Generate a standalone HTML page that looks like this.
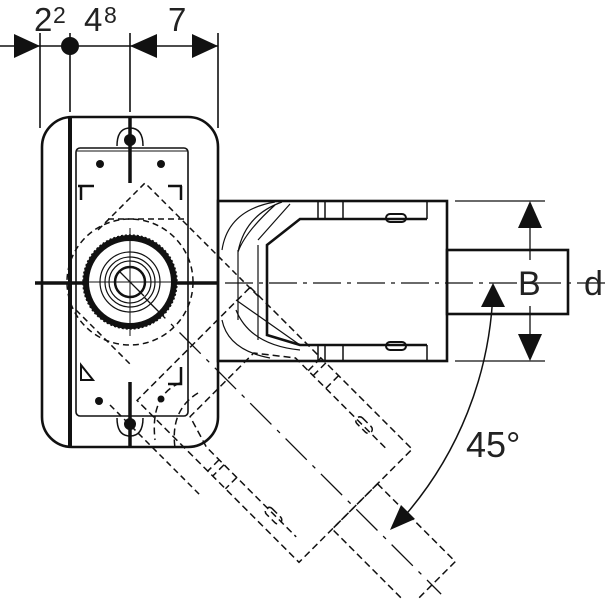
<!DOCTYPE html>
<html><head><meta charset="utf-8"><style>
html,body{margin:0;padding:0;background:#fff;width:606px;height:600px;overflow:hidden;}
svg{display:block;}
text{font-family:"Liberation Sans",sans-serif;fill:#222;}
</style></head><body>
<svg width="606" height="600" viewBox="0 0 606 600" xmlns="http://www.w3.org/2000/svg">
<defs><clipPath id="c"><rect x="0" y="0" width="606" height="600"/></clipPath></defs>
<g clip-path="url(#c)">
<g stroke="#111" fill="none" stroke-linecap="butt">
<line x1="0" y1="46" x2="218" y2="46" stroke-width="1.6"/>
<line x1="40" y1="33" x2="40" y2="128" stroke-width="1.6"/>
<line x1="70" y1="33" x2="70" y2="112" stroke-width="1.6"/>
<line x1="130" y1="33" x2="130" y2="112" stroke-width="1.6"/>
<line x1="218" y1="33" x2="218" y2="128" stroke-width="1.6"/>
</g>
<g fill="#111">
<polygon points="14,34 40,46 14,58"/>
<circle cx="70" cy="46" r="9"/>
<polygon points="157,34 130,46 157,58"/>
<polygon points="192,34 218,46 192,58"/>
</g>
<text x="34" y="31" font-size="33">2</text>
<text x="53" y="23" font-size="23">2</text>
<text x="84" y="31" font-size="33">4</text>
<text x="104" y="23" font-size="23">8</text>
<text x="168" y="31" font-size="33">7</text>

<g stroke="#111" fill="none">
<rect x="42" y="117" width="176" height="330" rx="30" stroke-width="2.6"/>
<line x1="70" y1="117" x2="70" y2="447" stroke-width="4"/>
<rect x="76" y="148" width="112" height="268" rx="4" stroke-width="1.6"/>
<line x1="76" y1="151" x2="188" y2="151" stroke-width="1"/>
<line x1="130" y1="117" x2="130" y2="183" stroke-width="3.5"/>
<line x1="130" y1="382" x2="130" y2="447" stroke-width="3.5"/>
<line x1="35" y1="283" x2="85" y2="283" stroke-width="3.5"/>
<line x1="175" y1="283" x2="218" y2="283" stroke-width="3.5"/>
<path d="M117,146 Q117,128 130,128 Q143,128 143,146" stroke-width="1.5"/>
<path d="M117,418 Q117,436 130,436 Q143,436 143,418" stroke-width="1.5"/>
<path d="M78,186 H94 M81,186 V200" stroke-width="2.5"/>
<path d="M182,186 H168 M181,186 V200" stroke-width="2.5"/>
<path d="M81,365 V380 L93,380 Z" stroke-width="2"/>
<path d="M181,367 V384 H168" stroke-width="2.5"/>
<circle cx="130" cy="282" r="44" stroke-width="6"/>
<circle cx="130" cy="282" r="47" stroke-width="1.5" stroke-dasharray="2 2"/>
<circle cx="130" cy="282" r="30" stroke-width="1.2"/>
<circle cx="130" cy="282" r="25" stroke-width="1.2"/>
<circle cx="130" cy="282" r="21" stroke-width="1.2"/>
<circle cx="130" cy="282" r="15" stroke-width="2.5"/>
<line x1="120" y1="272" x2="144" y2="296" stroke-width="1.3"/>
<line x1="130" y1="228" x2="130" y2="336" stroke-width="1"/>
<line x1="88" y1="282" x2="172" y2="282" stroke-width="1"/>
</g>
<g stroke="#111" fill="none" stroke-width="1.5" stroke-dasharray="6 4">
<path d="M98,230 L145,183 L258,296"/>
<line x1="108" y1="219" x2="184" y2="219"/>
<circle cx="130" cy="282" r="63"/>
<path d="M76,310 L130,364 M110,405 L200,495"/>
</g>
<g fill="#111">
<circle cx="130" cy="140" r="6"/><circle cx="130" cy="424" r="6"/>
<circle cx="100" cy="164" r="4"/><circle cx="161" cy="164" r="4"/>
<circle cx="99" cy="401" r="4"/><circle cx="161" cy="399" r="3.5"/>
</g>

<g stroke="#111" fill="none">
<rect x="218" y="201" width="229" height="160" stroke-width="2.6"/>
<path d="M427,219 H300 L267,245 V335 L300,345 H427" stroke-width="2.6"/>
<path d="M427,201 V219 M427,345 V361" stroke-width="1.5"/>
<path d="M318,201 V219 M325,201 V219 M343,201 V219 M318,345 V361 M325,345 V361 M343,345 V361" stroke-width="1.5"/>
<rect x="386" y="214" width="20" height="8" rx="4" stroke-width="2"/>
<rect x="386" y="342" width="20" height="8" rx="4" stroke-width="2"/>
<rect x="447" y="250" width="121" height="64" stroke-width="2.6"/>
<path d="M275,202 Q228,210 222,250 M282,202 Q245,215 238,252 M258,240 L290,204 M238,252 Q245,232 275,205 M258,245 V340 M238,250 V320" stroke-width="1.2"/>
<path d="M222,320 Q228,350 270,358 M236,310 Q250,345 300,350 M236,300 L300,345" stroke-width="1.2"/>
<line x1="455" y1="201" x2="545" y2="201" stroke-width="1.3"/>
<line x1="455" y1="361" x2="545" y2="361" stroke-width="1.3"/>
<line x1="530" y1="220" x2="530" y2="260" stroke-width="1.3"/>
<line x1="530" y1="306" x2="530" y2="345" stroke-width="1.3"/>
<line x1="225" y1="283" x2="606" y2="283" stroke-width="1.3" stroke-dasharray="28 6 4 6"/>
<path d="M493,290 A363,363 0 0 1 402,519" stroke-width="1.5"/>
</g>
<g fill="#111">
<polygon points="530,201 518,228 542,228"/>
<polygon points="530,361 518,334 542,334"/>
<polygon points="493,283 481,307 505,307"/>
<polygon points="390,530 401,505 415,519"/>
</g>
<text x="518" y="295" font-size="34">B</text>
<text x="584" y="295" font-size="34">d</text>
<text x="466" y="457" font-size="36">45°</text>

<g transform="rotate(45 130 283)" stroke="#111" fill="none" stroke-width="1.5" stroke-dasharray="7 4">
<rect x="218" y="201" width="229" height="160"/>
<path d="M427,219 H300 L267,245 V335 L300,345 H427"/>
<rect x="447" y="250" width="110" height="64"/>
<rect x="386" y="214" width="20" height="8" rx="4"/>
<rect x="386" y="342" width="20" height="8" rx="4"/>
<path d="M318,201 V219 M325,201 V219 M343,201 V219 M318,345 V361 M325,345 V361 M343,345 V361"/>
<line x1="150" y1="283" x2="570" y2="283" stroke-dasharray="30 8 4 8" stroke-width="1.3"/>
</g>
<g stroke="#111" fill="none" stroke-width="1.5" stroke-dasharray="7 4">
<path d="M180,383 Q150,395 155,440 M198,393 Q170,410 175,448"/>
</g>
</g>
</svg>
</body></html>
